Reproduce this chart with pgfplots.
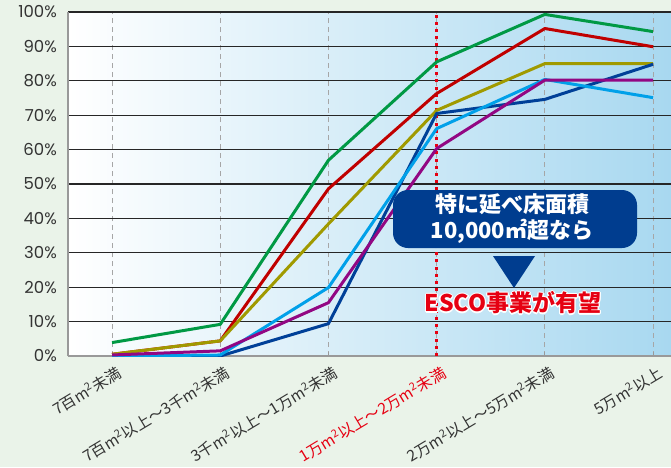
\documentclass[border=0pt]{standalone}
\usepackage{fontspec}
\setmainfont{Noto Sans CJK JP}
\newfontfamily\pop{Poppins}
\usepackage{pgfplots}
\pgfplotsset{compat=1.18}
\definecolor{bggreen}{RGB}{234,243,233}
\definecolor{skyend}{RGB}{168,216,240}
\definecolor{cgreen}{RGB}{0,153,68}
\definecolor{cred}{RGB}{192,0,0}
\definecolor{colive}{RGB}{160,154,0}
\definecolor{cnavy}{RGB}{0,64,152}
\definecolor{clblue}{RGB}{0,160,233}
\definecolor{cpurple}{RGB}{146,7,131}
\definecolor{boxnavy}{RGB}{0,61,143}
\definecolor{esred}{RGB}{230,0,18}
\definecolor{txt}{RGB}{51,51,51}
\newcommand{\sq}{m\textsuperscript{2}}
\begin{document}
\begin{tikzpicture}[x=1pt,y=1pt]
\useasboundingbox (0,0) rectangle (671,467);
\fill[bggreen] (0,0) rectangle (671,467);
\fill[left color=white, right color=skyend] (68,111) rectangle (671,455);
\begin{axis}[
  at={(68pt,111pt)}, anchor=south west,
  scale only axis, width=603pt, height=344pt,
  xmin=-0.407, xmax=5.166, ymin=0, ymax=100,
  axis x line*=bottom, axis y line*=left,
  axis line style={-, draw=black!40, line width=1.2pt},
  xtick={0,1,2,3,4,5},
  xticklabels={7百\sq 未満, 7百\sq 以上〜3千\sq 未満, 3千\sq 以上〜1万\sq 未満, \textcolor{esred}{1万\sq 以上〜2万\sq 未満}, 2万\sq 以上〜5万\sq 未満, 5万\sq 以上},
  ytick={0,10,...,100},
  yticklabels={0\%,10\%,20\%,30\%,40\%,50\%,60\%,70\%,80\%,90\%,100\%},
  ytick style={draw=none},
  xtick style={draw=black!40, line width=1pt},
  tick align=inside, major tick length=4pt,
  xmajorgrids, ymajorgrids,
  x grid style={draw=black!35, line width=1pt, dash pattern=on 5pt off 4pt},
  y grid style={draw=black!85, line width=1.1pt},
  xticklabel style={font=\fontsize{15.5}{18}\selectfont, text=txt, inner sep=0pt, xshift=4pt, yshift=-9pt, rotate=31, anchor=north east},
  yticklabel style={font=\pop\fontsize{16.5}{18}\selectfont, text=txt, inner sep=0pt, xshift=-11pt},
  every axis plot/.append style={line width=3pt, line join=round, mark=none},
]
\draw[esred, line width=3pt, dash pattern=on 3pt off 4.2pt] (axis cs:3,0) -- (axis cs:3,100);
\addplot[cgreen] coordinates {(0,3.9) (1,9.2) (2,56.9) (3,85.5) (4,99.3) (5,94.3)};
\addplot[cred] coordinates {(0,0.5) (1,4.4) (2,48.6) (3,76.3) (4,95.2) (5,89.9)};
\addplot[colive] coordinates {(0,0.5) (1,4.4) (2,38.4) (3,71.4) (4,85.0) (5,85.0)};
\addplot[cnavy] coordinates {(0,0) (1,0) (2,9.4) (3,70.5) (4,74.6) (5,84.8)};
\addplot[clblue] coordinates {(0,0) (1,0.3) (2,19.9) (3,66.1) (4,80.4) (5,75.1)};
\addplot[cpurple] coordinates {(0,0.3) (1,1.5) (2,15.5) (3,60.3) (4,80.2) (5,80.2)};
\end{axis}
\fill[boxnavy, rounded corners=15pt] (393,219) rectangle (637,277);
\node[text=white, align=center, font=\fontsize{22}{26}\selectfont\bfseries] at (512,248) {特に延べ床面積\\10,000㎡超なら};
\fill[boxnavy] (493,211) -- (535,211) -- (514,179) -- cycle;
\foreach \dx/\dy in {1.2/0,-1.2/0,0/1.2,0/-1.2,0.9/0.9,-0.9/0.9,0.9/-0.9,-0.9/-0.9}
  \node[text=white, font=\fontsize{23}{26}\selectfont\bfseries] at (513+\dx,164+\dy) {ESCO事業が有望};
\node[text=esred, font=\fontsize{23}{26}\selectfont\bfseries] at (513,164) {ESCO事業が有望};
\end{tikzpicture}
\end{document}
